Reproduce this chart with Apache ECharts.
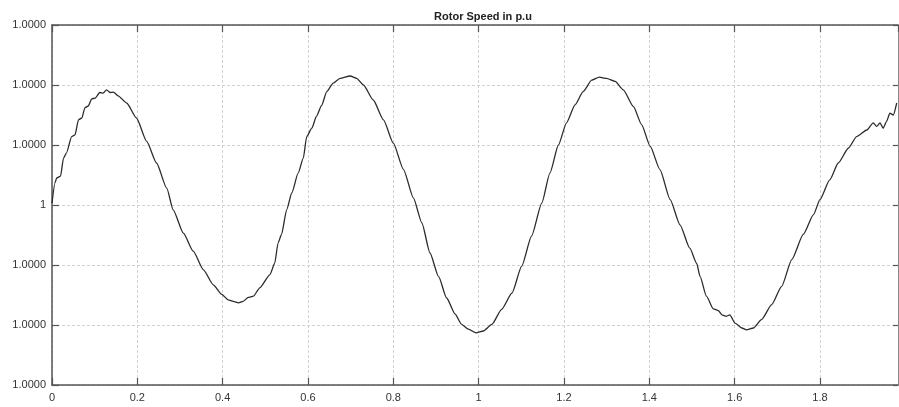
<!DOCTYPE html>
<html>
<head>
<meta charset="utf-8">
<title>Rotor Speed in p.u</title>
<script src="https://cdn.jsdelivr.net/npm/echarts@6/dist/echarts.min.js"></script>
<style>
  html, body { margin: 0; padding: 0; background: #fff; }
  #chart { width: 899px; height: 407px; }
</style>
</head>
<body>
<div id="chart"></div>
<script>
// Simulation time (s)
const time = [
  0.000, 0.007, 0.011, 0.020, 0.027, 0.034, 0.046, 0.054, 0.062, 0.070,
  0.077, 0.085, 0.093, 0.101, 0.112, 0.120, 0.128, 0.136, 0.144, 0.155,
  0.175, 0.198, 0.222, 0.245, 0.269, 0.284, 0.308, 0.331, 0.355, 0.378,
  0.398, 0.413, 0.425, 0.437, 0.448, 0.460, 0.472, 0.487, 0.511, 0.522,
  0.530, 0.538, 0.550, 0.562, 0.577, 0.589, 0.597, 0.609, 0.620, 0.632,
  0.644, 0.659, 0.675, 0.699, 0.714, 0.730, 0.753, 0.777, 0.800, 0.824,
  0.847, 0.867, 0.886, 0.906, 0.925, 0.945, 0.960, 0.976, 0.994, 1.011,
  1.031, 1.054, 1.078, 1.101, 1.124, 1.148, 1.167, 1.187, 1.206, 1.226,
  1.245, 1.265, 1.283, 1.300, 1.320, 1.339, 1.363, 1.382, 1.402, 1.425,
  1.449, 1.472, 1.495, 1.511, 1.519, 1.534, 1.550, 1.562, 1.570, 1.581,
  1.589, 1.601, 1.617, 1.628, 1.644, 1.663, 1.687, 1.710, 1.734, 1.761,
  1.785, 1.800, 1.823, 1.843, 1.867, 1.886, 1.910, 1.925, 1.933, 1.941,
  1.948, 1.956, 1.964, 1.972, 1.980
];

// Rotor speed deviation from 1 p.u, in units of 1e-5 p.u
const speedDev = [
  0.03, 0.37, 0.45, 0.48, 0.78, 0.87, 1.14, 1.17, 1.42, 1.45,
  1.62, 1.65, 1.77, 1.78, 1.875, 1.865, 1.92, 1.875, 1.88, 1.82,
  1.70, 1.45, 1.06, 0.70, 0.28, -0.08, -0.47, -0.77, -1.08, -1.33,
  -1.49, -1.58, -1.605, -1.63, -1.605, -1.54, -1.52, -1.38, -1.16, -0.97,
  -0.63, -0.49, -0.08, 0.20, 0.53, 0.78, 1.14, 1.28, 1.48, 1.66,
  1.89, 2.03, 2.11, 2.15, 2.11, 2.00, 1.75, 1.42, 1.03, 0.59,
  0.12, -0.30, -0.80, -1.19, -1.55, -1.82, -1.99, -2.07, -2.13, -2.10,
  -1.99, -1.74, -1.47, -1.02, -0.52, 0.03, 0.53, 1.00, 1.37, 1.67,
  1.89, 2.08, 2.13, 2.11, 2.06, 1.92, 1.64, 1.34, 0.98, 0.59,
  0.09, -0.33, -0.72, -0.97, -1.19, -1.52, -1.73, -1.76, -1.83, -1.855,
  -1.83, -1.97, -2.05, -2.08, -2.05, -1.91, -1.66, -1.36, -0.91, -0.49,
  -0.16, 0.09, 0.42, 0.70, 0.95, 1.14, 1.25, 1.37, 1.31, 1.37,
  1.28, 1.39, 1.53, 1.50, 1.70
];

const DEV_SCALE = 1e-5;      // one axis step in p.u
const T_MAX = 1.983;         // end of the plotted time window
const titleText = 'Rotor Speed in p.u';

const points = time.map((t, i) => [t, speedDev[i]]);

const FONT = '"Liberation Sans", Arial, sans-serif';
const axisColor = '#555';
const labelColor = '#333';
const gridStyle = { color: '#d2d2d2', width: 1, type: [3, 2] };

const speedLabel = v => (Math.abs(v) < 1e-9 ? '1' : (1 + v * DEV_SCALE).toFixed(4));

const chart = echarts.init(document.getElementById('chart'), null, { renderer: 'canvas' });
chart.setOption({
  animation: false,
  backgroundColor: '#fff',
  title: {
    text: titleText,
    left: 478,
    top: 6,
    textAlign: 'center',
    textStyle: { fontFamily: FONT, fontSize: 11, fontWeight: 'bold', color: '#222' }
  },
  grid: { left: 52, right: 1, top: 25, bottom: 22, containLabel: false },
  xAxis: [
    {
      type: 'value', min: 0, max: T_MAX, interval: 0.2,
      axisLine: { show: true, onZero: false, lineStyle: { color: axisColor, width: 1.5 } },
      axisTick: { show: true, inside: true, length: 7, lineStyle: { color: axisColor, width: 1.2 } },
      axisLabel: {
        showMaxLabel: false, margin: 7, color: labelColor, fontFamily: FONT, fontSize: 11,
        formatter: v => String(Math.round(v * 10) / 10)
      },
      splitLine: { show: true, lineStyle: gridStyle }
    },
    {
      type: 'value', position: 'top', min: 0, max: T_MAX, interval: 0.2,
      axisLine: { show: true, onZero: false, lineStyle: { color: axisColor, width: 1.5 } },
      axisTick: { show: true, inside: true, length: 7, lineStyle: { color: axisColor, width: 1.2 } },
      axisLabel: { show: false },
      splitLine: { show: false }
    }
  ],
  yAxis: [
    {
      type: 'value', min: -3, max: 3, interval: 1,
      axisLine: { show: true, onZero: false, lineStyle: { color: axisColor, width: 1.5 } },
      axisTick: { show: true, inside: true, length: 7, lineStyle: { color: axisColor, width: 1.2 } },
      axisLabel: { margin: 6, color: labelColor, fontFamily: FONT, fontSize: 11, formatter: speedLabel },
      splitLine: { show: true, lineStyle: gridStyle }
    },
    {
      type: 'value', position: 'right', min: -3, max: 3, interval: 1,
      axisLine: { show: true, onZero: false, lineStyle: { color: '#888', width: 1 } },
      axisTick: { show: true, inside: true, length: 5, lineStyle: { color: axisColor, width: 1.2 } },
      axisLabel: { show: false },
      splitLine: { show: false }
    }
  ],
  series: [
    {
      name: titleText,
      type: 'line',
      xAxisIndex: 0,
      yAxisIndex: 0,
      data: points,
      showSymbol: false,
      smooth: 0.2,
      smoothMonotone: 'x',
      lineStyle: { color: '#2b2b2b', width: 1.3 }
    }
  ]
});
</script>
</body>
</html>
